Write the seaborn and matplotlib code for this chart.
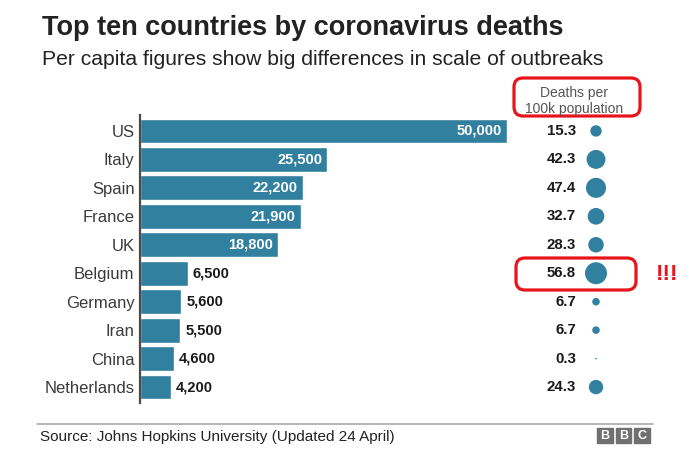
import matplotlib.pyplot as plt
import seaborn as sns
import numpy as np
from matplotlib.patches import FancyBboxPatch, Rectangle

sns.set_theme(style="white")
plt.rcParams['font.family'] = ['Liberation Sans', 'DejaVu Sans']

# Data
countries = ["US", "Italy", "Spain", "France", "UK",
             "Belgium", "Germany", "Iran", "China", "Netherlands"]
deaths = [50000, 25500, 22200, 21900, 18800, 6500, 5600, 5500, 4600, 4200]
per_100k = [15.3, 42.3, 47.4, 32.7, 28.3, 56.8, 6.7, 6.7, 0.3, 24.3]

BLUE = "#32809f"
RED = "#e8141c"
W, H = 690, 469

fig = plt.figure(figsize=(W / 100, H / 100), dpi=100)

# overlay in pixel coords for titles, boxes and footer
ov = fig.add_axes([0, 0, 1, 1])
ov.set_xlim(0, W)
ov.set_ylim(H, 0)
ov.axis("off")
ov.patch.set_alpha(0)

# main bar chart
ax = fig.add_axes([140 / W, 1 - 403 / H, 367 / W, 288 / H])
sns.barplot(x=deaths, y=countries, orient="h", color=BLUE, saturation=1,
            width=0.87, ax=ax)
ax.set_xlim(0, 50000)
ax.set_ylim(9.56, -0.56)
ax.set_xticks([])
ax.tick_params(axis="y", length=0, pad=4, labelsize=12, labelcolor="#3a3a3a")
for s in ["top", "right", "bottom"]:
    ax.spines[s].set_visible(False)
ax.spines["left"].set_color("#4a4a4a")
ax.spines["left"].set_linewidth(1.6)
ax.patch.set_alpha(0)

for i, v in enumerate(deaths):
    if v > 15000:
        ax.text(v - 700, i, f"{v:,}", ha="right", va="center", color="white",
                fontsize=10.5, fontweight="bold")
    else:
        ax.text(v + 700, i, f"{v:,}", ha="left", va="center", color="#1a1a1a",
                fontsize=10.5, fontweight="bold")

# per-capita column: x=0 lands on the circle column
ax2 = fig.add_axes([510 / W, 1 - 403 / H, 180 / W, 288 / H])
ax2.set_xlim(-86, 94)
sns.scatterplot(x=np.zeros(len(countries)), y=countries, size=per_100k,
                sizes=(0, 250), size_norm=(0, 56.8), color=BLUE,
                edgecolor="none", legend=False, ax=ax2)
ax2.set_ylim(9.56, -0.56)
ax2.axis("off")
for i, v in enumerate(per_100k):
    ax2.text(-20, i, f"{v}", ha="right", va="center", color="#1a1a1a",
             fontsize=10.8, fontweight="bold")

# titles
ov.text(42, 35, "Top ten countries by coronavirus deaths", fontsize=19.5,
        fontweight="bold", color="#222222", va="baseline")
ov.text(42, 65, "Per capita figures show big differences in scale of outbreaks",
        fontsize=15.2, color="#222222", va="baseline")

# column header and highlight boxes
ov.text(574, 101, "Deaths per\n100k population", ha="center", va="center",
        fontsize=10, color="#555555", linespacing=1.25)
ov.add_patch(FancyBboxPatch((514, 78), 126, 38,
                            boxstyle="round,pad=0,rounding_size=9",
                            fill=False, ec=RED, lw=2.3))
ov.add_patch(FancyBboxPatch((516, 258), 120, 32,
                            boxstyle="round,pad=0,rounding_size=9",
                            fill=False, ec=RED, lw=2.3))
ov.text(667, 275, "!!!", ha="center", va="center", fontsize=16,
        fontweight="bold", color=RED)

# footer
ov.plot([37, 653], [424, 424], color="#b0b0b0", lw=1.3)
ov.text(40, 437, "Source: Johns Hopkins University (Updated 24 April)",
        fontsize=11, color="#222222", va="center")
for k, letter in enumerate("BBC"):
    x0 = 597 + k * 18.5
    ov.add_patch(Rectangle((x0, 428), 15.5, 15.5, color="#707070"))
    ov.text(x0 + 7.75, 436, letter, ha="center", va="center",
            fontsize=9, fontweight="bold", color="white")

fig.savefig("out.png", dpi=100)
